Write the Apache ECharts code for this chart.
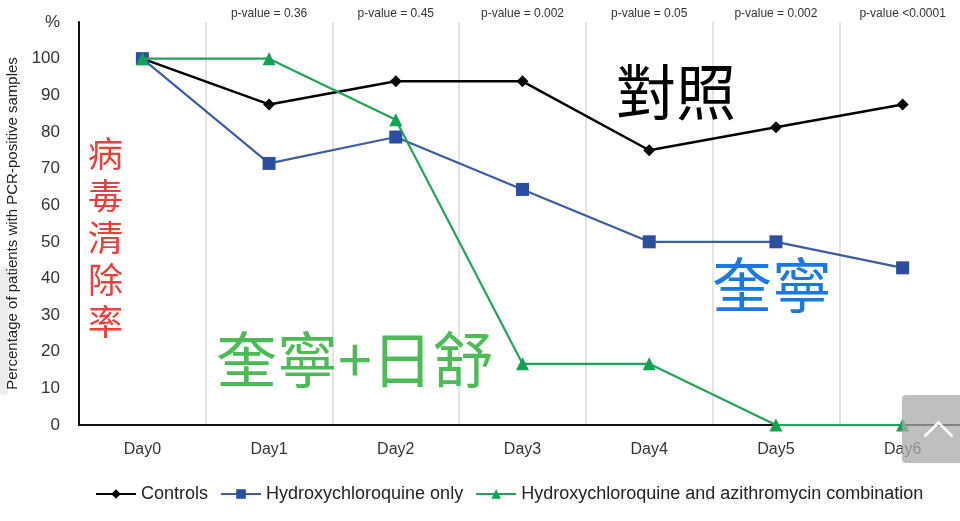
<!DOCTYPE html>
<html>
<head>
<meta charset="utf-8">
<script src="https://cdn.jsdelivr.net/npm/echarts@6/dist/echarts.min.js"></script>
<style>
  html, body { margin: 0; padding: 0; background: #fff; }
  #box { width: 960px; height: 521px; }
</style>
</head>
<body>
<div id="box"></div>
<script>
var days = ['Day0', 'Day1', 'Day2', 'Day3', 'Day4', 'Day5', 'Day6'];
var pValues = ['', 'p-value = 0.36', 'p-value = 0.45', 'p-value = 0.002', 'p-value = 0.05', 'p-value = 0.002', 'p-value <0.0001'];
var controls = [100, 87.5, 93.8, 93.8, 75, 81.3, 87.5];
var hcqOnly = [100, 71.4, 78.6, 64.3, 50, 50, 42.9];
var hcqAzi = [100, 100, 83.3, 16.7, 16.7, 0, 0];

var chartDom = document.getElementById('box');
var myChart = echarts.init(chartDom);
var font = '"Liberation Sans", Arial, sans-serif';
var cjk = '"Noto Sans CJK TC", "Noto Sans CJK SC", sans-serif';

var option = {
  animation: false,
  textStyle: { fontFamily: font },
  legend: {
    bottom: 13,
    left: 90,
    itemGap: 12,
    itemWidth: 40,
    itemHeight: 12,
    textStyle: { fontSize: 18, color: '#222', fontFamily: font },
    data: ['Controls', 'Hydroxychloroquine only', 'Hydroxychloroquine and azithromycin combination']
  },
  grid: { left: 79, top: 22, width: 887, bottom: 96, outerBoundsMode: 'none' },
  xAxis: [
    {
      type: 'category',
      data: days,
      axisLine: { lineStyle: { color: '#111', width: 2 } },
      axisTick: { show: false },
      axisLabel: { fontSize: 16, color: '#333', margin: 17, fontFamily: font },
      splitLine: { show: true, lineStyle: { color: '#dadada', width: 1.5 } }
    },
    {
      type: 'category',
      position: 'top',
      data: pValues,
      axisLine: { show: false },
      axisTick: { show: false },
      axisLabel: { fontSize: 12, color: '#333', margin: 2, fontFamily: font }
    }
  ],
  yAxis: {
    type: 'value',
    min: 0,
    max: 110,
    interval: 10,
    name: 'Percentage of patients with PCR-positive samples',
    nameLocation: 'middle',
    nameGap: 58,
    nameTextStyle: { fontSize: 15, color: '#222', fontFamily: font },
    axisLine: { show: true, lineStyle: { color: '#111', width: 2 } },
    axisTick: { show: false },
    splitLine: { show: false },
    axisLabel: {
      fontSize: 17,
      color: '#333',
      margin: 19,
      fontFamily: font,
      formatter: function (v) { return v === 110 ? '%' : v; }
    }
  },
  series: [
    {
      name: 'Controls',
      type: 'line',
      data: controls,
      symbol: 'diamond',
      symbolSize: 12,
      itemStyle: { color: '#000' },
      lineStyle: { color: '#000', width: 2.5 },
      z: 3
    },
    {
      name: 'Hydroxychloroquine only',
      type: 'line',
      data: hcqOnly,
      symbol: 'rect',
      symbolSize: 13,
      itemStyle: { color: '#2b4f9e' },
      lineStyle: { color: '#3d5c9f', width: 2.2 },
      z: 4
    },
    {
      name: 'Hydroxychloroquine and azithromycin combination',
      type: 'line',
      data: hcqAzi,
      symbol: 'triangle',
      symbolSize: 13,
      itemStyle: { color: '#13a152' },
      lineStyle: { color: '#22a35a', width: 2.2 },
      z: 5
    }
  ],
  graphic: [
    { type: 'text', left: 616, top: 62, z: 10, style: { text: '對照', font: '400 60px ' + cjk, fill: '#000' } },
    { type: 'text', left: 712, top: 255, z: 10, style: { text: '奎寧', font: '400 60px ' + cjk, fill: '#1a78e0' } },
    { type: 'text', left: 216, top: 329, z: 10, style: { text: '奎寧+日舒', font: '400 61px ' + cjk, fill: '#4cbb55' } },
    { type: 'text', left: 88, top: 133, z: 10, style: { text: '病\n毒\n清\n除\n率', font: '400 35px ' + cjk, lineHeight: 42, fill: '#e8403a' } },
    { type: 'rect', left: 0, top: 267, z: 0, shape: { width: 8, height: 128, r: 3 }, style: { fill: '#ececec' } },
    { type: 'rect', left: 902, top: 395, z: 20, shape: { width: 70, height: 68, r: 4 }, style: { fill: 'rgba(170,170,170,0.75)' } },
    { type: 'polyline', left: 922, top: 420, z: 21, shape: { points: [[0, 14], [14, 0], [28, 14]] }, style: { stroke: '#fff', lineWidth: 2.5, fill: null } }
  ]
};
option && myChart.setOption(option);
</script>
</body>
</html>
